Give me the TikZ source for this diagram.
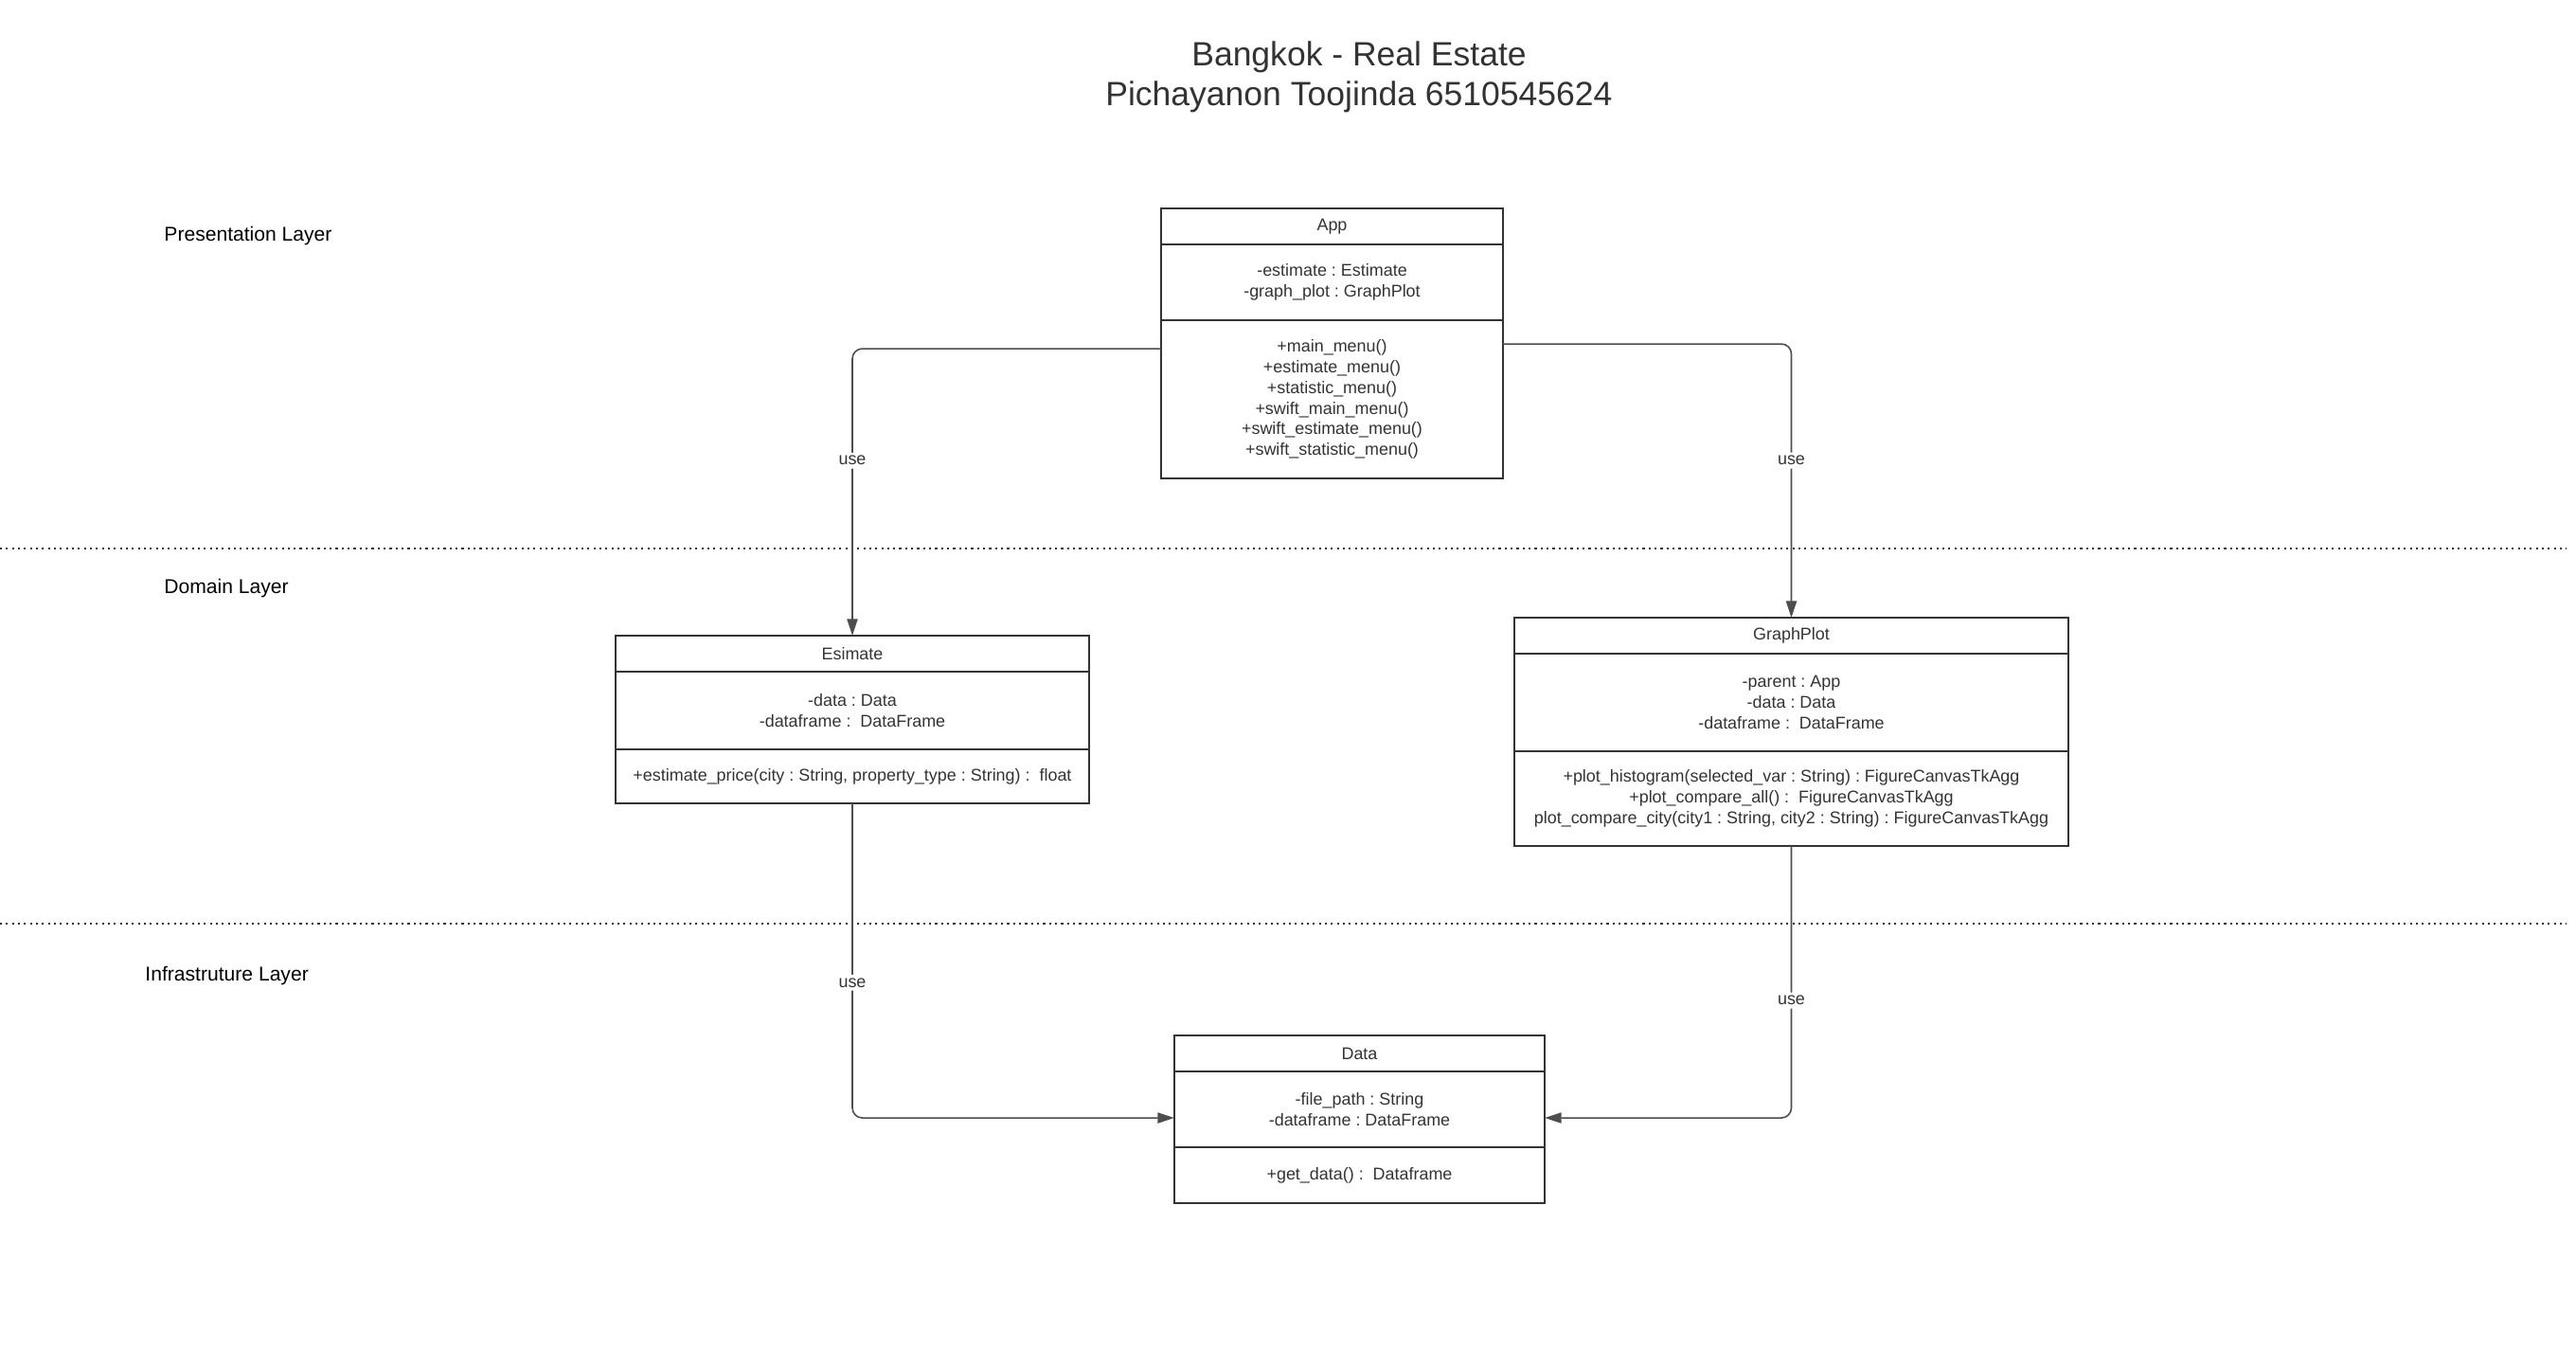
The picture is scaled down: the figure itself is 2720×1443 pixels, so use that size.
\documentclass[tikz,border=0pt]{standalone}
\usepackage{fontspec}
\setmainfont{Liberation Sans}
\usetikzlibrary{positioning,arrows.meta}
\definecolor{ink}{HTML}{333333}
\definecolor{wire}{HTML}{4D4D4D}
\frenchspacing
\newcommand{\umlfont}{\fontsize{5.1}{6.2}\selectfont}
\tikzset{
  part/.style={draw=ink, line width=0.6pt, text=ink, font=\umlfont, align=center,
    inner sep=0pt, outer sep=0pt, anchor=north, minimum width=#1},
  layer/.style={anchor=west, font=\fontsize{6}{7.2}\selectfont},
  sep/.style={draw=ink, line width=0.5pt, dash pattern=on 0.6pt off 1.2pt},
  use/.style={draw=wire, line width=0.45pt, rounded corners=3pt,
    -{Triangle[length=5pt,width=3.2pt]}},
  tag/.style={fill=white, text=ink, font=\umlfont, inner sep=1pt},
}
\begin{document}
\begin{tikzpicture}[x=0.01cm,y=-0.01cm]
      \useasboundingbox (0,0) rectangle (2720,1443);
      \node[text=ink, align=center, font=\fontsize{10.1}{11.9}\selectfont] (title) at (1435,81)
        {Bangkok - Real Estate\\Pichayanon Toojinda 6510545624};
      \node[layer] (presentation) at (161,249) {Presentation Layer};
      \node[layer] (domain) at (161,621) {Domain Layer};
      \node[layer] (infra) at (141,1030) {Infrastruture Layer};
      \draw[sep] (0,579) -- (2710,579);
      \draw[sep] (0,975) -- (2710,975);
      \node[part=3.61cm, minimum height=0.38cm] (app) at (1406.5,220) {App};
      \node[part=3.61cm, minimum height=0.80cm, below=0pt of app] (app-attr)
        {-estimate : Estimate\\-graph\_plot : GraphPlot};
      \node[part=3.61cm, minimum height=1.67cm, below=0pt of app-attr] (app-meth)
        {+main\_menu()\\+estimate\_menu()\\+statistic\_menu()\\+swift\_main\_menu()\\+swift\_estimate\_menu()\\+swift\_statistic\_menu()};
      \node[part=5.00cm, minimum height=0.38cm] (est) at (900,671) {Esimate};
      \node[part=5.00cm, minimum height=0.82cm, below=0pt of est] (est-attr)
        {-data : Data\\-dataframe :\ \ DataFrame};
      \node[part=5.00cm, minimum height=0.57cm, below=0pt of est-attr] (est-meth)
        {+estimate\_price(city : String, property\_type : String) :\ \ float};
      \node[part=5.85cm, minimum height=0.38cm] (graph) at (1891.5,652) {GraphPlot};
      \node[part=5.85cm, minimum height=1.03cm, below=0pt of graph] (graph-attr)
        {-parent : App\\-data : Data\\-dataframe :\ \ DataFrame};
      \node[part=5.85cm, minimum height=1.00cm, below=0pt of graph-attr] (graph-meth)
        {+plot\_histogram(selected\_var : String) : FigureCanvasTkAgg\\+plot\_compare\_all() :\ \ FigureCanvasTkAgg\\plot\_compare\_city(city1 : String, city2 : String) : FigureCanvasTkAgg};
      \node[part=3.91cm, minimum height=0.38cm] (data) at (1435.5,1093) {Data};
      \node[part=3.91cm, minimum height=0.80cm, below=0pt of data] (data-attr)
        {-file\_path : String\\-dataframe : DataFrame};
      \node[part=3.91cm, minimum height=0.59cm, below=0pt of data-attr] (data-meth)
        {+get\_data() :\ \ Dataframe};
      \begin{scope}[use]
        \draw ([yshift=-0.30cm]app-meth.north west) -| node[tag, pos=0.695] {use} (est.north);
        \draw ([yshift=-0.25cm]app-meth.north east) -| node[tag, pos=0.713] {use} (graph.north);
        \draw (est-meth.south) |- node[tag, pos=0.285] {use} ([yshift=-0.49cm]data-attr.north west);
        \draw (graph-meth.south) |- node[tag, pos=0.284] {use} ([yshift=-0.49cm]data-attr.north east);
      \end{scope}
    \end{tikzpicture}
\end{document}
